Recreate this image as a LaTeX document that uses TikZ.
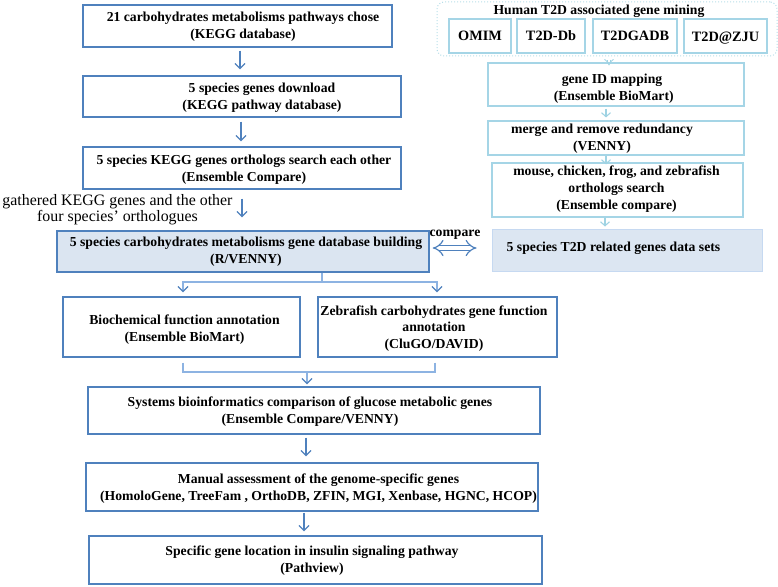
\documentclass[tikz,border=0pt]{standalone}
\usepackage{fontspec}
\setmainfont{Liberation Serif}
\usetikzlibrary{arrows.meta,calc}
\definecolor{lblue}{HTML}{4F81BD}
\definecolor{lfill}{HTML}{DBE5F1}
\definecolor{cyanb}{HTML}{A5D5E6}
\definecolor{dotb}{HTML}{B7DEE8}
\definecolor{tfill}{HTML}{DCE6F2}
\definecolor{tbord}{HTML}{C6D9F1}
\definecolor{cconn}{HTML}{8DB3E2}
\definecolor{carr}{HTML}{9FD3E3}
\begin{document}
\begin{tikzpicture}[x=1pt,y=-1pt,
  lbox/.style={draw=lblue, line width=1.4pt, inner sep=0pt},
  rbox/.style={draw=cyanb, line width=1.1pt, inner sep=0pt},
  btxt/.style={font=\bfseries\fontsize{13.7}{16.8}\selectfont, align=center, inner sep=0pt},
  stxt/.style={font=\bfseries\fontsize{14.3}{16}\selectfont, inner sep=0pt},
  ntxt/.style={font=\fontsize{15.9}{16.3}\selectfont, align=center, inner sep=0pt},
  arr/.style={draw=lblue, line width=1.2pt, -{Straight Barb[length=5pt,width=10pt]}},
  conn/.style={draw=cconn, line width=1.2pt},
  connarr/.style={conn, -{Straight Barb[length=5pt,width=10pt,color=lblue]}},
  rarr/.style={draw=carr, line width=1.1pt, -{Straight Barb[length=4pt,width=9pt]}},
  hollow/.style={draw=carr, line width=0.8pt, double=white, double distance=2.5pt, -{Implies}},
]
\useasboundingbox (0,0) rectangle (778,586);

% left column boxes
\node[lbox, minimum width=309pt, minimum height=42pt] (b1) at (237.5,26) {};
\node[btxt] (t1) at (243,26.5) {21 carbohydrates metabolisms pathways chose\\(KEGG database)};
\node[lbox, minimum width=318pt, minimum height=41pt] (b2) at (242,96.5) {};
\node[btxt] (t2) at (262,98) {5 species genes download\\(KEGG pathway database)};
\node[lbox, minimum width=318pt, minimum height=42pt] (b3) at (242,168) {};
\node[btxt] (t3) at (244,169.5) {5 species KEGG genes orthologs search each other\\(Ensemble Compare)};
\node[lbox, fill=lfill, minimum width=372pt, minimum height=41pt] (b4) at (243,251.5) {};
\node[btxt] (t4) at (246,251.5) {5 species carbohydrates metabolisms gene database building\\(R/VENNY)};
\node[lbox, minimum width=237pt, minimum height=60pt] (b5) at (181.5,327) {};
\node[btxt] (t5) at (184.5,330) {Biochemical function annotation\\(Ensemble BioMart)};
\node[lbox, minimum width=239pt, minimum height=60pt] (b6) at (437.5,327) {};
\node[btxt] (t6) at (434,328.5) {Zebrafish carbohydrates gene function\\annotation\\(CluGO/DAVID)};
\node[lbox, minimum width=452pt, minimum height=47pt] (b7) at (314,410.5) {};
\node[btxt] (t7) at (310,412) {Systems bioinformatics comparison of glucose metabolic genes\\(Ensemble Compare/VENNY)};
\node[lbox, minimum width=452pt, minimum height=48pt] (b8) at (312,487) {};
\node[btxt] (t8) at (318.5,488.5) {Manual assessment of the genome-specific genes\\(HomoloGene, TreeFam , OrthoDB, ZFIN, MGI, Xenbase, HGNC, HCOP)};
\node[lbox, minimum width=453pt, minimum height=48pt] (b9) at (315.5,560) {};
\node[btxt] (t9) at (312,561) {Specific gene location in insulin signaling pathway\\(Pathview)};

\node[ntxt] (lab) at (117.5,210) {gathered KEGG genes and the other\\four species’ orthologues};

% right column
\node[draw=dotb, line width=1pt, dotted, rounded corners=7pt, minimum width=340pt, minimum height=54pt, inner sep=0pt] (hum) at (607,29) {};
\node[btxt] (th) at (599,11) {Human T2D associated gene mining};
\node[rbox, minimum width=62pt, minimum height=34pt] (omim) at (480,36) {};
\node[stxt] (tom) at (480,35.5) {OMIM};
\node[rbox, minimum width=68pt, minimum height=34pt] (tdb) at (551,36) {};
\node[stxt] (ttdb) at (551,35.5) {T2D-Db};
\node[rbox, minimum width=84pt, minimum height=34pt] (tgadb) at (635,36) {};
\node[stxt] (ttga) at (635,35.5) {T2DGADB};
\node[rbox, minimum width=83pt, minimum height=34pt] (tzju) at (725.5,36) {};
\node[stxt] (ttzj) at (725.5,38) {T2D@ZJU};

\node[rbox, minimum width=256pt, minimum height=43pt] (gid) at (616,84.5) {};
\node[btxt] (tg) at (612,88.5) {gene ID mapping\\\ (Ensemble BioMart)};
\node[rbox, minimum width=256pt, minimum height=34pt] (mrg) at (616,138) {};
\node[btxt] (tm) at (602,138.5) {merge and remove redundancy\\(VENNY)};
\node[rbox, minimum width=251pt, minimum height=54pt] (mou) at (617.5,190) {};
\node[btxt] (tmo) at (616.5,189) {mouse, chicken, frog, and zebrafish\\orthologs search\\(Ensemble compare)};
\node[draw=tbord, line width=1pt, fill=tfill, minimum width=270pt, minimum height=42pt, inner sep=0pt] (t2d) at (627,250) {};
\node[btxt] (tt) at (613.5,248) {5 species T2D related genes data sets};

\node[btxt] (cmp) at (455,234.5) {compare};

% coordinates for vertical alignment
\coordinate (a1) at (240,0);
\coordinate (a2) at (241,0);
\coordinate (a3) at (242,0);
\coordinate (s) at (322,282);
\coordinate (s5) at (183,0);
\coordinate (s6) at (437,0);
\coordinate (s6b) at (435,0);
\coordinate (m) at (307,372);
\coordinate (a7) at (306,0);
\coordinate (a8) at (304,0);
\coordinate (r0) at (609,0);
\coordinate (r1) at (606,0);
\coordinate (r3) at (605,0);
\coordinate (ch) at (0,248);

% left connectors
\draw[arr, shorten <=3pt, shorten >=6pt] (b1.south -| a1) -- (b2.north -| a1);
\draw[arr, shorten <=4pt, shorten >=5pt] (b2.south -| a2) -- (b3.north -| a2);
\draw[arr, shorten <=9pt, shorten >=13pt] (b3.south -| a3) -- (b4.north -| a3);
\draw[conn] (b4.south -| s) -- (s);
\draw[connarr, shorten >=4pt] (s) -| (b5.north -| s5);
\draw[connarr, shorten >=4pt] (s) -| (b6.north -| s6);
\draw[conn, shorten <=5pt] (b5.south -| s5) |- (m);
\draw[conn, shorten <=5pt] (b6.south -| s6b) |- (m);
\draw[connarr, shorten >=2pt] (m) -- (b7.north -| m);
\draw[arr, shorten <=3pt, shorten >=6pt] (b7.south -| a7) -- (b8.north -| a7);
\draw[arr, shorten <=1pt, shorten >=4pt] (b8.south -| a8) -- (b9.north -| a8);

% compare double arrow
\draw[draw=lblue, line width=1.2pt, double=white, double distance=4.5pt, {Implies}-{Implies}, shorten <=3pt, shorten >=15pt] (b4.east |- ch) -- (t2d.west |- ch);

% right connectors
\draw[hollow, shorten <=3pt, shorten >=-3pt] (hum.south -| r0) -- (gid.north -| r0);
\draw[rarr, shorten <=2pt, shorten >=3pt] (gid.south -| r1) -- (mrg.north -| r1);
\draw[rarr, shorten <=0pt, shorten >=-2pt] (mrg.south -| r1) -- (mou.north -| r1);
\draw[rarr, shorten <=0pt, shorten >=2pt] (mou.south -| r3) -- (t2d.north -| r3);
\end{tikzpicture}
\end{document}
